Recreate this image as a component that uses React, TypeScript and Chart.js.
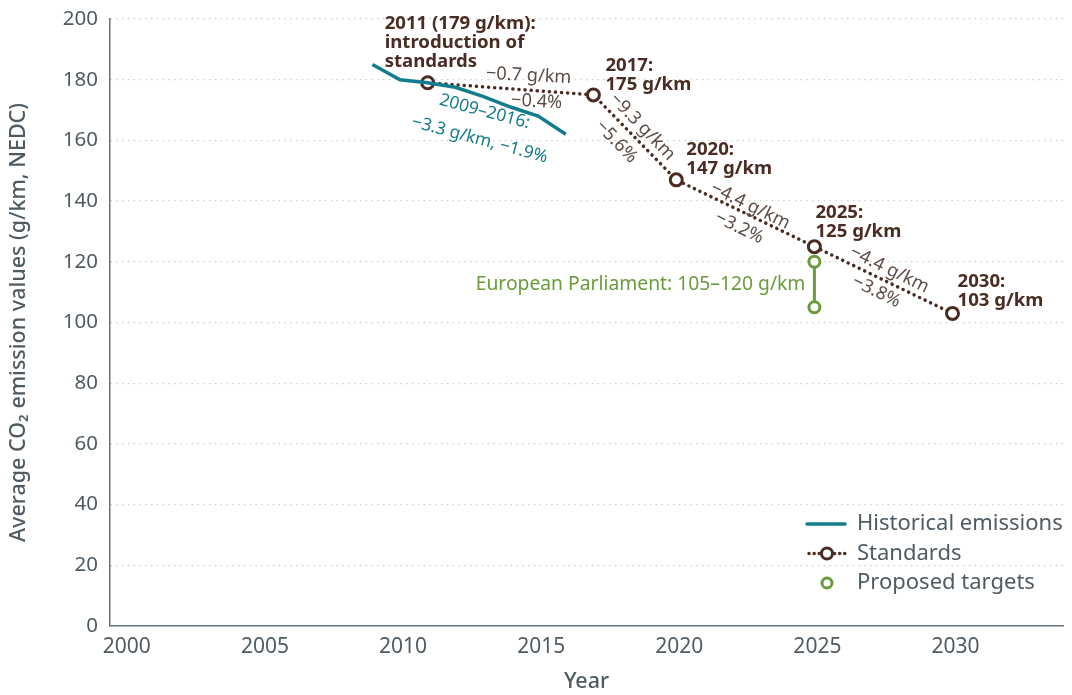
import React, { useEffect, useRef } from "react";
import { Chart, registerables } from "chart.js";

Chart.register(...registerables);

const historicalYears = [2009, 2010, 2011, 2012, 2013, 2014, 2015, 2016];
const historicalValues = [185, 180, 179, 177.5, 174.5, 171, 168, 162];

const standardYears = [2011, 2017, 2020, 2025, 2030];
const standardValues = [179, 175, 147, 125, 103];
const standardLabels = [
  ["2011 (179 g/km):", "introduction of", "standards"],
  ["2017:", "175 g/km"],
  ["2020:", "147 g/km"],
  ["2025:", "125 g/km"],
  ["2030:", "103 g/km"],
];

const proposedYears = [2025, 2025];
const proposedValues = [120, 105];

const segmentLabels = [
  ["−0.7 g/km", "−0.4%"],
  ["−9.3 g/km", "−5.6%"],
  ["−4.4 g/km", "−3.2%"],
  ["−4.4 g/km", "−3.8%"],
];
const historicalNote = ["2009–2016:", "−3.3 g/km, −1.9%"];
const proposedNote = "European Parliament: 105–120 g/km";

const legendLabels = ["Historical emissions", "Standards", "Proposed targets"];
const xTickValues = [2000, 2005, 2010, 2015, 2020, 2025, 2030];

const TEAL = "#127d8c";
const BROWN = "#4a2c22";
const SEG = "#5e4b44";
const GREEN = "#6a9b3b";
const AXIS_TEXT = "#4f5b63";
const FONT = "'Noto Sans', sans-serif";

export default function App() {
  const ref = useRef<HTMLCanvasElement | null>(null);

  useEffect(() => {
    document.body.style.margin = "0";
    const canvas = ref.current;
    if (!canvas) return;

    const text = (
      ctx: CanvasRenderingContext2D,
      s: string,
      x: number,
      y: number,
      font: string,
      color: string,
      align: CanvasTextAlign = "center",
      rot = 0
    ) => {
      ctx.save();
      ctx.translate(x, y);
      ctx.rotate((rot * Math.PI) / 180);
      ctx.font = font;
      ctx.fillStyle = color;
      ctx.textAlign = align;
      ctx.textBaseline = "middle";
      ctx.fillText(s, 0, 0);
      ctx.restore();
    };

    const annotations = {
      id: "annotations",
      afterDatasetsDraw(chart: any) {
        const ctx = chart.ctx as CanvasRenderingContext2D;
        const xs = chart.scales.x;
        const ys = chart.scales.y;
        const at = (yr: number, v: number) => [xs.getPixelForValue(yr), ys.getPixelForValue(v)];
        const bold = `bold 18.6px ${FONT}`;
        const reg = `18.2px ${FONT}`;

        const offs = [
          [-43, -59],
          [12, -29],
          [10, -30],
          [1, -34],
          [5, -32],
        ];
        standardYears.forEach((yr, i) => {
          const [px, py] = at(yr, standardValues[i]);
          standardLabels[i].forEach((line, j) => {
            text(ctx, line, px + offs[i][0], py + offs[i][1] + j * 19, bold, BROWN, "left");
          });
        });

        const segPos = [
          { i: 0, a: [101, -7], b: [109, 19], r: 3 },
          { i: 1, a: [49, 32], b: [23, 47], r: 46 },
          { i: 2, a: [74, 26], b: [63, 48], r: 26 },
          { i: 3, a: [75, 23], b: [62, 45], r: 26 },
        ];
        segPos.forEach((s, k) => {
          const [px, py] = at(standardYears[s.i], standardValues[s.i]);
          text(ctx, segmentLabels[k][0], px + s.a[0], py + s.a[1], reg, SEG, "center", s.r);
          text(ctx, segmentLabels[k][1], px + s.b[0], py + s.b[1], reg, SEG, "center", s.r);
        });

        const [hx, hy] = at(2011, 179);
        const tealFont = `17.4px ${FONT}`;
        text(ctx, historicalNote[0], hx + 57, hy + 29, tealFont, TEAL, "center", 15);
        text(ctx, historicalNote[1], hx + 52, hy + 57, tealFont, TEAL, "center", 15);

        const [gx, gy] = at(2025, (proposedValues[0] + proposedValues[1]) / 2);
        text(ctx, proposedNote, gx - 9, gy, `19.3px ${FONT}`, GREEN, "right");
      },
      afterDraw(chart: any) {
        const ctx = chart.ctx as CanvasRenderingContext2D;
        const area = chart.chartArea;
        const lx = area.right - 256;
        const tx = lx + 50;
        const y0 = area.bottom - 102;
        const gap = 29.5;
        const font = `22px ${FONT}`;
        ctx.save();
        ctx.strokeStyle = TEAL;
        ctx.lineWidth = 3.5;
        ctx.lineCap = "round";
        ctx.beginPath();
        ctx.moveTo(lx, y0);
        ctx.lineTo(lx + 38, y0);
        ctx.stroke();
        const y1 = y0 + gap;
        ctx.strokeStyle = BROWN;
        ctx.setLineDash([0.1, 5]);
        ctx.lineWidth = 3.5;
        ctx.beginPath();
        ctx.moveTo(lx + 2, y1);
        ctx.lineTo(lx + 38, y1);
        ctx.stroke();
        ctx.setLineDash([]);
        ctx.fillStyle = "#fff";
        ctx.lineWidth = 3;
        ctx.beginPath();
        ctx.arc(lx + 20, y1, 5.5, 0, Math.PI * 2);
        ctx.fill();
        ctx.stroke();
        const y2 = y1 + gap;
        ctx.strokeStyle = GREEN;
        ctx.beginPath();
        ctx.arc(lx + 20, y2, 5, 0, Math.PI * 2);
        ctx.fill();
        ctx.stroke();
        ctx.restore();
        [y0, y1, y2].forEach((yy, i) => text(ctx, legendLabels[i], tx, yy, font, AXIS_TEXT, "left"));
      },
    };

    const chart = new Chart(canvas, {
      type: "line",
      data: {
        datasets: [
          {
            label: legendLabels[0],
            data: historicalYears.map((x, i) => ({ x, y: historicalValues[i] })),
            borderColor: TEAL,
            borderWidth: 3.5,
            pointRadius: 0,
            tension: 0,
          },
          {
            label: legendLabels[1],
            data: standardYears.map((x, i) => ({ x, y: standardValues[i] })),
            borderColor: BROWN,
            borderWidth: 3.5,
            borderDash: [0.1, 6],
            borderCapStyle: "round",
            pointRadius: 6,
            pointBorderWidth: 3,
            pointBackgroundColor: "#ffffff",
            pointBorderColor: BROWN,
          },
          {
            label: legendLabels[2],
            data: proposedYears.map((x, i) => ({ x, y: proposedValues[i] })),
            borderColor: GREEN,
            borderWidth: 3,
            pointRadius: 5.5,
            pointBorderWidth: 3,
            pointBackgroundColor: "#ffffff",
            pointBorderColor: GREEN,
          },
        ],
      },
      options: {
        animation: false,
        responsive: false,
        maintainAspectRatio: false,
        layout: { padding: { top: 19, right: 8, left: 0, bottom: 0 } },
        plugins: { legend: { display: false }, tooltip: { enabled: false } },
        scales: {
          x: {
            type: "linear",
            min: 1999.5,
            max: 2034,
            afterBuildTicks: (s: any) => {
              s.ticks = xTickValues.map((v) => ({ value: v }));
            },
            afterFit: (s: any) => {
              s.height = 69;
              s.paddingLeft = 0;
              s.paddingRight = 0;
            },
            grid: { display: false, drawTicks: false },
            border: { display: true, color: "#66737b", width: 1.5 },
            ticks: {
              padding: 8,
              labelOffset: 3,
              color: AXIS_TEXT,
              font: { family: FONT, size: 21 },
              callback: (v: any) => String(v),
            },
            title: {
              display: true,
              text: "Year",
              color: AXIS_TEXT,
              font: { family: FONT, size: 21.5, weight: "500" },
              padding: { top: 0, bottom: 0 },
            },
          },
          y: {
            min: 0,
            max: 200,
            afterFit: (s: any) => {
              s.width = 110;
              s.paddingTop = 0;
              s.paddingBottom = 0;
            },
            ticks: {
              stepSize: 20,
              padding: 12,
              color: AXIS_TEXT,
              font: { family: FONT, size: 20.5 },
            },
            grid: { color: "#c9c9c9", lineWidth: 1.3, drawTicks: false },
            border: { display: true, color: "#66737b", width: 1.5, dash: [1.3, 4.5] },
            title: {
              display: true,
              text: "Average CO₂ emission values (g/km, NEDC)",
              color: AXIS_TEXT,
              font: { family: FONT, size: 21.5, weight: "500" },
              padding: { top: 6, bottom: 0 },
            },
          },
        },
      },
      plugins: [annotations],
    } as any);

    return () => chart.destroy();
  }, []);

  return (
    <div style={{ width: 1072, height: 695 }}>
      <canvas ref={ref} width={1072} height={695} style={{ display: "block" }} />
    </div>
  );
}
